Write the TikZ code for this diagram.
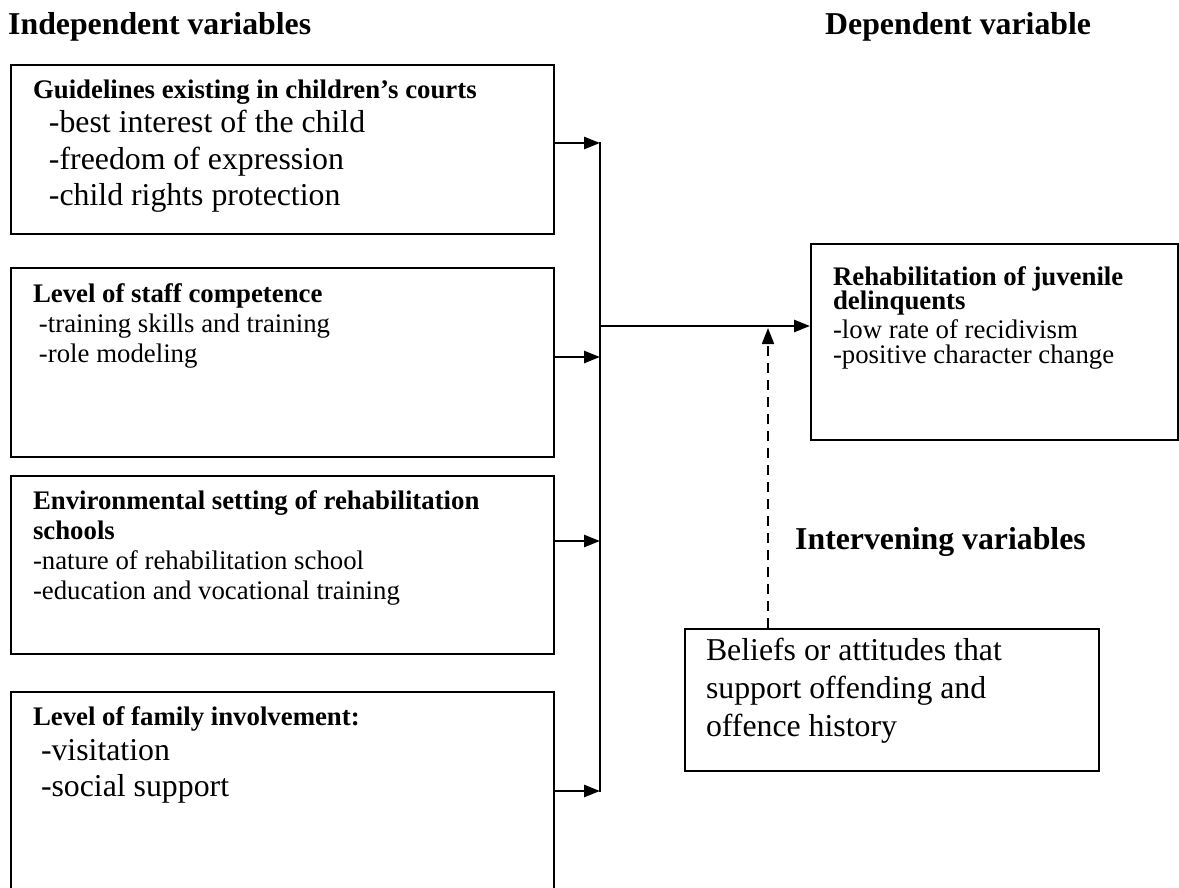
\documentclass[tikz,border=0pt]{standalone}
\usepackage{fontspec}
\setmainfont{Liberation Serif}
\usetikzlibrary{arrows.meta}
\setlength{\parskip}{0pt}

% font sizes (picture is drawn in pixel units)
\newcommand{\hdfont}{\fontsize{31.8}{36}\selectfont\bfseries}
\newcommand{\ttlfont}{\fontsize{26.8}{30}\selectfont\bfseries}
\newcommand{\smfont}{\fontsize{26.8}{30}\selectfont}
\newcommand{\bgfont}{\fontsize{31.8}{36.5}\selectfont}

\tikzset{
  varbox/.style={draw, line width=2pt, inner sep=0pt, anchor=north west},
  heading/.style={inner sep=0pt, anchor=base west, font=\hdfont},
  link/.style={line width=2.6pt, -{Triangle[length=16pt,width=12pt]}},
  modlink/.style={line width=2pt, dash pattern=on 10pt off 7pt, -{Triangle[length=16pt,width=12pt]}}
}

\begin{document}
\begin{tikzpicture}[x=1pt, y=-1pt]
  \useasboundingbox (0,0) rectangle (1179,888);
  \clip (0,0) rectangle (1179,888);

  % headings
  \node[heading] (indep) at (8,35) {Independent variables};
  \node[heading] (dep) at (825,35) {Dependent variable};
  \node[heading] (interv) at (795,549) {Intervening variables};

  % independent variables
  \node[varbox] (guide) at (10,64) {\begin{minipage}[t][169pt][t]{543pt}
      \hspace*{22pt}\rule{0pt}{34pt}{\ttlfont Guidelines existing in children’s courts\par}
      \vspace{-2.5pt}
      {\bgfont\hspace*{38pt}-best interest of the child\par}
      {\bgfont\hspace*{38pt}-freedom of expression\par}
      {\bgfont\hspace*{38pt}-child rights protection\par}
    \end{minipage}};

  \node[varbox] (staff) at (10,267) {\begin{minipage}[t][189pt][t]{543pt}
      \hspace*{22pt}\rule{0pt}{34pt}{\ttlfont Level of staff competence\par}
      {\smfont\hspace*{28pt}-training skills and training\par}
      {\smfont\hspace*{28pt}-role modeling\par}
    \end{minipage}};

  \node[varbox] (env) at (10,475) {\begin{minipage}[t][178pt][t]{543pt}
      \hspace*{22pt}\rule{0pt}{33pt}{\ttlfont Environmental setting of rehabilitation\par}
      {\ttlfont\hspace*{22pt}schools\par}
      {\smfont\hspace*{22pt}-nature of rehabilitation school\par}
      {\smfont\hspace*{22pt}-education and vocational training\par}
    \end{minipage}};

  \node[varbox] (family) at (10,691) {\begin{minipage}[t][230pt][t]{543pt}
      \hspace*{22pt}\rule{0pt}{33pt}{\ttlfont Level of family involvement:\par}
      {\fontsize{31.8}{35.5}\selectfont\hspace*{30pt}-visitation\par}
      {\fontsize{31.8}{35.5}\selectfont\hspace*{30pt}-social support\par}
    \end{minipage}};

  % dependent variable
  \node[varbox] (rehab) at (810,243) {\begin{minipage}[t][196pt][t]{367pt}
      \lineskiplimit=-50pt
      {\fontsize{26.8}{24.5}\selectfont\bfseries
        \hspace*{22pt}\rule{0pt}{41pt}Rehabilitation of juvenile\\
        \hspace*{22pt}delinquents\par}
      {\fontsize{26.8}{29}\selectfont\hspace*{22pt}-low rate of recidivism\par}
      {\fontsize{26.8}{24.5}\selectfont\hspace*{22pt}-positive character change\par}
    \end{minipage}};

  % intervening variables
  \node[varbox] (beliefs) at (684,628) {\begin{minipage}[t][142pt][t]{414pt}
      {\fontsize{31.8}{38}\selectfont
        \hspace*{21pt}\rule{0pt}{31pt}Beliefs or attitudes that\\
        \hspace*{21pt}support offending and\\
        \hspace*{21pt}offence history\par}
    \end{minipage}};

  % bus and arrows
  \coordinate (b1) at (600,143);
  \coordinate (b2) at (600,357);
  \coordinate (b3) at (600,541);
  \coordinate (b4) at (600,791);
  \coordinate (hub) at (600,326);
  \coordinate (mod) at (768,328);

  \draw[line width=2.6pt, line cap=rect] (b1) -- (b4);
  \draw[link] (guide.east |- b1) -- (b1);
  \draw[link] (staff.east |- b2) -- (b2);
  \draw[link] (env.east |- b3) -- (b3);
  \draw[link] (family.east |- b4) -- (b4);
  \draw[link] (hub) -- (hub -| rehab.west);
  \draw[modlink] (beliefs.north -| mod) -- (mod);
\end{tikzpicture}
\end{document}
